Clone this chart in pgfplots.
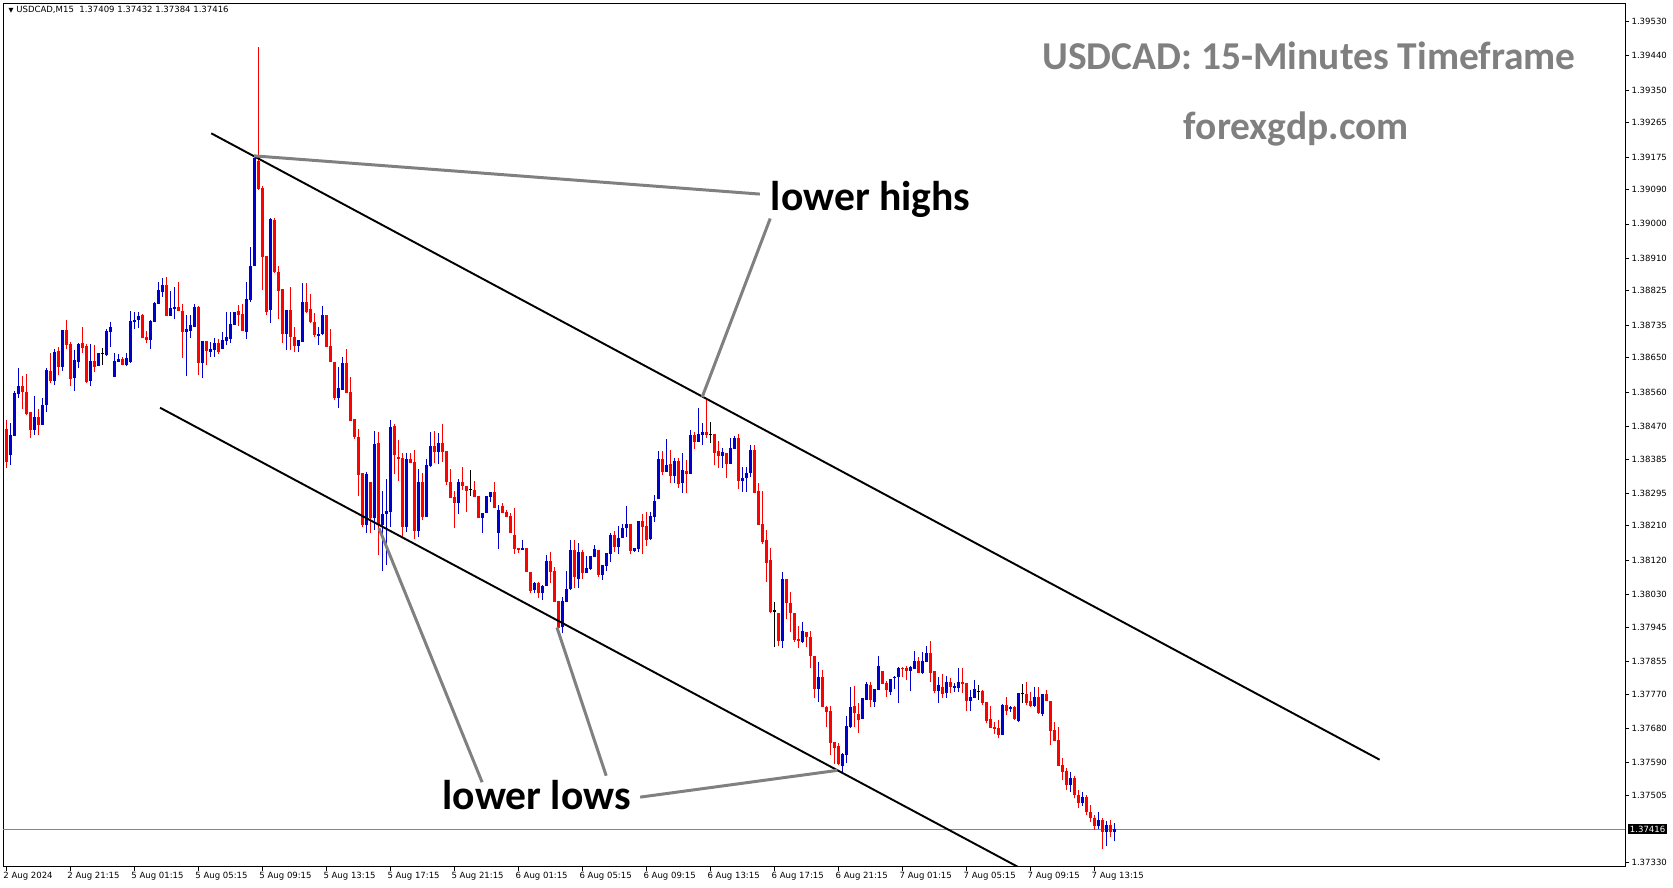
\documentclass[border=0pt]{standalone}
\usepackage{fontspec}
\usepackage{pgfplots}
\usepackage{pgfplotstable}
\pgfplotsset{compat=1.18}
\setmainfont{DejaVu Sans}
\newfontfamily\carlito{Carlito}
\definecolor{cblue}{RGB}{0,0,205}
\definecolor{cred}{RGB}{255,0,0}
\definecolor{annot}{RGB}{128,128,128}
\definecolor{pline}{RGB}{119,136,153}
\definecolor{ttl}{RGB}{128,128,128}

% USDCAD M15 candles: bar index, open, high, low, close
\pgfplotstableread{
x o h l c
0 1.38463 1.38487 1.38361 1.38377
1 1.38395 1.38479 1.38369 1.38447
2 1.38445 1.38563 1.38445 1.38557
3 1.38555 1.38623 1.38544 1.38576
4 1.38576 1.38602 1.38515 1.38560
5 1.38560 1.38607 1.38500 1.38502
6 1.38508 1.38508 1.38440 1.38461
7 1.38461 1.38550 1.38447 1.38495
8 1.38495 1.38515 1.38447 1.38474
9 1.38474 1.38544 1.38474 1.38526
10 1.38526 1.38623 1.38508 1.38618
11 1.38615 1.38662 1.38584 1.38589
12 1.38589 1.38673 1.38578 1.38665
13 1.38667 1.38678 1.38604 1.38625
14 1.38625 1.38722 1.38615 1.38722
15 1.38722 1.38748 1.38673 1.38683
16 1.38686 1.38691 1.38576 1.38594
17 1.38597 1.38670 1.38563 1.38644
18 1.38638 1.38688 1.38623 1.38686
19 1.38688 1.38730 1.38662 1.38675
20 1.38680 1.38686 1.38584 1.38586
21 1.38589 1.38686 1.38576 1.38641
22 1.38641 1.38683 1.38612 1.38625
23 1.38628 1.38662 1.38628 1.38662
24 1.38662 1.38675 1.38631 1.38662
25 1.38657 1.38725 1.38654 1.38720
26 1.38717 1.38743 1.38678 1.38730
27 1.38599 1.38662 1.38599 1.38641
28 1.38638 1.38659 1.38638 1.38646
29 1.38646 1.38652 1.38631 1.38631
30 1.38631 1.38662 1.38628 1.38649
31 1.38638 1.38772 1.38636 1.38746
32 1.38743 1.38769 1.38725 1.38748
33 1.38748 1.38769 1.38727 1.38759
34 1.38761 1.38764 1.38701 1.38701
35 1.38704 1.38720 1.38688 1.38696
36 1.38696 1.38748 1.38673 1.38746
37 1.38743 1.38796 1.38743 1.38793
38 1.38790 1.38848 1.38790 1.38827
39 1.38822 1.38858 1.38809 1.38840
40 1.38840 1.38861 1.38759 1.38759
41 1.38759 1.38824 1.38759 1.38780
42 1.38777 1.38835 1.38751 1.38782
43 1.38782 1.38848 1.38772 1.38772
44 1.38772 1.38790 1.38649 1.38717
45 1.38717 1.38761 1.38602 1.38725
46 1.38720 1.38761 1.38701 1.38735
47 1.38730 1.38790 1.38730 1.38782
48 1.38782 1.38785 1.38604 1.38636
49 1.38636 1.38693 1.38597 1.38693
50 1.38693 1.38693 1.38631 1.38667
51 1.38665 1.38691 1.38652 1.38673
52 1.38670 1.38701 1.38652 1.38688
53 1.38688 1.38699 1.38659 1.38665
54 1.38673 1.38717 1.38673 1.38696
55 1.38693 1.38769 1.38683 1.38704
56 1.38699 1.38769 1.38688 1.38738
57 1.38735 1.38769 1.38735 1.38769
58 1.38772 1.38788 1.38733 1.38761
59 1.38764 1.38790 1.38720 1.38720
60 1.38717 1.38848 1.38699 1.38803
61 1.38801 1.38939 1.38796 1.38890
62 1.38890 1.39172 1.38890 1.39172
63 1.39165 1.39463 1.39089 1.39091
64 1.39094 1.39099 1.38827 1.38913
65 1.38916 1.38916 1.38761 1.38769
66 1.38775 1.39015 1.38741 1.39013
67 1.39010 1.39015 1.38871 1.38874
68 1.38874 1.38890 1.38751 1.38824
69 1.38830 1.38830 1.38688 1.38712
70 1.38712 1.38775 1.38670 1.38775
71 1.38775 1.38835 1.38670 1.38704
72 1.38704 1.38730 1.38665 1.38680
73 1.38680 1.38696 1.38665 1.38696
74 1.38691 1.38845 1.38691 1.38796
75 1.38796 1.38845 1.38767 1.38769
76 1.38777 1.38816 1.38741 1.38743
77 1.38743 1.38767 1.38704 1.38709
78 1.38707 1.38730 1.38683 1.38712
79 1.38712 1.38785 1.38709 1.38761
80 1.38761 1.38761 1.38678 1.38678
81 1.38680 1.38725 1.38638 1.38638
82 1.38638 1.38638 1.38539 1.38544
83 1.38544 1.38625 1.38518 1.38570
84 1.38565 1.38652 1.38565 1.38636
85 1.38636 1.38673 1.38557 1.38557
86 1.38560 1.38599 1.38484 1.38484
87 1.38489 1.38489 1.38437 1.38442
88 1.38442 1.38463 1.38288 1.38343
89 1.38348 1.38348 1.38207 1.38212
90 1.38212 1.38351 1.38191 1.38345
91 1.38324 1.38324 1.38191 1.38230
92 1.38230 1.38458 1.38199 1.38424
93 1.38427 1.38455 1.38133 1.38212
94 1.38212 1.38301 1.38092 1.38241
95 1.38241 1.38332 1.38107 1.38249
96 1.38246 1.38487 1.38207 1.38468
97 1.38471 1.38476 1.38345 1.38395
98 1.38390 1.38434 1.38327 1.38385
99 1.38387 1.38400 1.38181 1.38207
100 1.38207 1.38400 1.38194 1.38385
101 1.38385 1.38400 1.38374 1.38374
102 1.38377 1.38408 1.38175 1.38196
103 1.38196 1.38358 1.38181 1.38324
104 1.38324 1.38348 1.38225 1.38233
105 1.38233 1.38385 1.38233 1.38369
106 1.38366 1.38455 1.38364 1.38419
107 1.38419 1.38458 1.38374 1.38403
108 1.38403 1.38453 1.38372 1.38427
109 1.38427 1.38476 1.38377 1.38403
110 1.38406 1.38406 1.38317 1.38324
111 1.38324 1.38358 1.38283 1.38283
112 1.38285 1.38301 1.38204 1.38269
113 1.38269 1.38332 1.38241 1.38324
114 1.38324 1.38364 1.38304 1.38314
115 1.38314 1.38314 1.38246 1.38301
116 1.38304 1.38356 1.38288 1.38304
117 1.38304 1.38327 1.38285 1.38285
118 1.38288 1.38288 1.38230 1.38230
119 1.38230 1.38243 1.38191 1.38243
120 1.38243 1.38288 1.38243 1.38288
121 1.38285 1.38298 1.38272 1.38298
122 1.38298 1.38324 1.38256 1.38256
123 1.38191 1.38264 1.38149 1.38251
124 1.38262 1.38269 1.38243 1.38243
125 1.38246 1.38251 1.38233 1.38233
126 1.38235 1.38243 1.38191 1.38191
127 1.38186 1.38256 1.38136 1.38149
128 1.38152 1.38152 1.38139 1.38146
129 1.38146 1.38173 1.38146 1.38152
130 1.38152 1.38152 1.38089 1.38089
131 1.38089 1.38089 1.38034 1.38039
132 1.38042 1.38063 1.38034 1.38060
133 1.38060 1.38063 1.38021 1.38034
134 1.38034 1.38055 1.38016 1.38052
135 1.38052 1.38133 1.38052 1.38118
136 1.38118 1.38141 1.38060 1.38089
137 1.38092 1.38102 1.38010 1.38010
138 1.38013 1.38013 1.37924 1.37942
139 1.37945 1.38023 1.37929 1.38013
140 1.38010 1.38092 1.38010 1.38044
141 1.38044 1.38173 1.38042 1.38146
142 1.38146 1.38173 1.38047 1.38076
143 1.38071 1.38165 1.38047 1.38141
144 1.38141 1.38146 1.38071 1.38086
145 1.38086 1.38131 1.38086 1.38099
146 1.38097 1.38131 1.38094 1.38131
147 1.38128 1.38160 1.38128 1.38149
148 1.38146 1.38146 1.38076 1.38081
149 1.38081 1.38107 1.38068 1.38107
150 1.38105 1.38139 1.38092 1.38139
151 1.38136 1.38191 1.38115 1.38186
152 1.38186 1.38196 1.38141 1.38154
153 1.38154 1.38209 1.38136 1.38178
154 1.38178 1.38215 1.38178 1.38204
155 1.38204 1.38262 1.38181 1.38215
156 1.38215 1.38215 1.38136 1.38144
157 1.38144 1.38152 1.38141 1.38152
158 1.38149 1.38222 1.38141 1.38222
159 1.38222 1.38241 1.38136 1.38207
160 1.38209 1.38246 1.38157 1.38173
161 1.38175 1.38246 1.38173 1.38235
162 1.38233 1.38290 1.38220 1.38275
163 1.38280 1.38406 1.38280 1.38385
164 1.38385 1.38406 1.38343 1.38351
165 1.38351 1.38437 1.38351 1.38369
166 1.38372 1.38408 1.38322 1.38340
167 1.38340 1.38387 1.38322 1.38379
168 1.38379 1.38387 1.38309 1.38319
169 1.38322 1.38400 1.38296 1.38356
170 1.38353 1.38382 1.38296 1.38345
171 1.38345 1.38461 1.38345 1.38447
172 1.38447 1.38455 1.38411 1.38429
173 1.38429 1.38518 1.38429 1.38450
174 1.38447 1.38479 1.38421 1.38455
175 1.38455 1.38539 1.38440 1.38447
176 1.38450 1.38481 1.38427 1.38450
177 1.38450 1.38450 1.38369 1.38400
178 1.38406 1.38432 1.38361 1.38392
179 1.38392 1.38413 1.38361 1.38403
180 1.38400 1.38400 1.38335 1.38372
181 1.38372 1.38440 1.38372 1.38413
182 1.38411 1.38445 1.38411 1.38440
183 1.38440 1.38450 1.38306 1.38327
184 1.38327 1.38364 1.38298 1.38335
185 1.38335 1.38364 1.38298 1.38348
186 1.38348 1.38421 1.38338 1.38408
187 1.38408 1.38421 1.38296 1.38296
188 1.38301 1.38322 1.38212 1.38212
189 1.38215 1.38301 1.38162 1.38167
190 1.38173 1.38199 1.38063 1.38112
191 1.38120 1.38152 1.37982 1.37984
192 1.37987 1.38010 1.37893 1.37987
193 1.37982 1.37982 1.37895 1.37908
194 1.37908 1.38089 1.37890 1.38071
195 1.38071 1.38071 1.37966 1.38008
196 1.38008 1.38037 1.37932 1.37982
197 1.37982 1.37982 1.37906 1.37911
198 1.37914 1.37948 1.37890 1.37908
199 1.37906 1.37958 1.37903 1.37934
200 1.37932 1.37932 1.37893 1.37919
201 1.37919 1.37934 1.37838 1.37869
202 1.37869 1.37869 1.37759 1.37783
203 1.37783 1.37853 1.37749 1.37814
204 1.37814 1.37833 1.37736 1.37736
205 1.37736 1.37738 1.37683 1.37723
206 1.37725 1.37738 1.37610 1.37641
207 1.37644 1.37644 1.37586 1.37628
208 1.37634 1.37641 1.37584 1.37586
209 1.37581 1.37615 1.37566 1.37613
210 1.37610 1.37712 1.37589 1.37686
211 1.37683 1.37788 1.37681 1.37736
212 1.37738 1.37791 1.37683 1.37720
213 1.37717 1.37746 1.37668 1.37702
214 1.37704 1.37759 1.37704 1.37759
215 1.37754 1.37801 1.37754 1.37796
216 1.37793 1.37801 1.37736 1.37754
217 1.37749 1.37783 1.37736 1.37783
218 1.37780 1.37869 1.37780 1.37843
219 1.37830 1.37830 1.37796 1.37796
220 1.37798 1.37804 1.37762 1.37780
221 1.37775 1.37809 1.37767 1.37809
222 1.37812 1.37817 1.37783 1.37814
223 1.37814 1.37840 1.37746 1.37838
224 1.37838 1.37840 1.37814 1.37835
225 1.37838 1.37843 1.37806 1.37830
226 1.37830 1.37843 1.37777 1.37840
227 1.37835 1.37882 1.37835 1.37856
228 1.37856 1.37866 1.37825 1.37825
229 1.37825 1.37880 1.37822 1.37856
230 1.37853 1.37895 1.37853 1.37877
231 1.37877 1.37908 1.37801 1.37825
232 1.37830 1.37830 1.37772 1.37777
233 1.37777 1.37814 1.37746 1.37793
234 1.37788 1.37822 1.37759 1.37770
235 1.37772 1.37817 1.37759 1.37801
236 1.37801 1.37812 1.37772 1.37788
237 1.37786 1.37798 1.37775 1.37790
238 1.37785 1.37838 1.37775 1.37801
239 1.37801 1.37838 1.37772 1.37796
240 1.37798 1.37798 1.37725 1.37751
241 1.37751 1.37780 1.37725 1.37762
242 1.37759 1.37806 1.37759 1.37783
243 1.37777 1.37793 1.37754 1.37777
244 1.37777 1.37780 1.37741 1.37746
245 1.37749 1.37749 1.37694 1.37699
246 1.37704 1.37738 1.37681 1.37681
247 1.37684 1.37696 1.37665 1.37679
248 1.37681 1.37702 1.37654 1.37662
249 1.37662 1.37743 1.37662 1.37741
250 1.37741 1.37762 1.37715 1.37725
251 1.37730 1.37738 1.37723 1.37736
252 1.37736 1.37738 1.37702 1.37704
253 1.37699 1.37772 1.37696 1.37772
254 1.37770 1.37796 1.37746 1.37770
255 1.37770 1.37801 1.37741 1.37746
256 1.37751 1.37775 1.37736 1.37738
257 1.37738 1.37788 1.37736 1.37762
258 1.37762 1.37788 1.37717 1.37720
259 1.37717 1.37770 1.37712 1.37770
260 1.37770 1.37780 1.37751 1.37751
261 1.37751 1.37751 1.37636 1.37673
262 1.37675 1.37696 1.37647 1.37647
263 1.37649 1.37683 1.37581 1.37581
264 1.37584 1.37602 1.37545 1.37566
265 1.37568 1.37576 1.37518 1.37531
266 1.37531 1.37566 1.37513 1.37550
267 1.37550 1.37555 1.37497 1.37505
268 1.37505 1.37518 1.37471 1.37484
269 1.37484 1.37513 1.37477 1.37500
270 1.37500 1.37505 1.37453 1.37461
271 1.37461 1.37479 1.37435 1.37445
272 1.37445 1.37453 1.37414 1.37424
273 1.37424 1.37461 1.37416 1.37440
274 1.37440 1.37445 1.37365 1.37408
275 1.37408 1.37438 1.37372 1.37428
276 1.37428 1.37440 1.37395 1.37409
277 1.37409 1.37432 1.37384 1.37416
}\candles

\begin{document}
\begin{tikzpicture}
\path[use as bounding box] (-3bp,-20bp) rectangle (1565bp,812bp);
\begin{axis}[
    at={(0,0)}, anchor=south west,
    width=1520bp, height=809bp, scale only axis,
    xmin=-0.8, xmax=404.53,
    ymin=1.373188, ymax=1.395775,
    clip mode=individual,
    axis line style={line width=0.8bp},
    xtick pos=bottom, ytick pos=right,
    tick align=outside,
    major tick length=4bp,
    tick style={line width=0.6bp, black},
    ticklabel style={font=\fontsize{8bp}{9bp}\selectfont},
    ytick={1.39530,1.39440,1.39350,1.39265,1.39175,1.39090,1.39000,1.38910,1.38825,1.38735,1.38650,1.38560,1.38470,1.38385,1.38295,1.38210,1.38120,1.38030,1.37945,1.37855,1.37770,1.37680,1.37590,1.37505,1.37330},
    yticklabels={1.39530,1.39440,1.39350,1.39265,1.39175,1.39090,1.39000,1.38910,1.38825,1.38735,1.38650,1.38560,1.38470,1.38385,1.38295,1.38210,1.38120,1.38030,1.37945,1.37855,1.37770,1.37680,1.37590,1.37505,1.37330},
    yticklabel style={anchor=west, inner sep=1bp, xshift=1bp},
    xtick={0,16,32,48,64,80,96,112,128,144,160,176,192,208,224,240,256,272},
    xticklabels={2 Aug 2024,2 Aug 21:15,5 Aug 01:15,5 Aug 05:15,5 Aug 09:15,5 Aug 13:15,5 Aug 17:15,5 Aug 21:15,6 Aug 01:15,6 Aug 05:15,6 Aug 09:15,6 Aug 13:15,6 Aug 17:15,6 Aug 21:15,7 Aug 01:15,7 Aug 05:15,7 Aug 09:15,7 Aug 13:15},
    xticklabel style={anchor=north west, inner sep=1bp, xshift=-4bp},
]
% current price line
\addplot[pline, line width=0.7bp, forget plot] coordinates {(-0.8,1.37416) (404.53,1.37416)};

% wicks
\addplot[draw=none, mark=none, forget plot,
  restrict expr to domain={\thisrow{c}-\thisrow{o}}{0.000001:1},
  error bars/.cd, y dir=plus, y explicit, error mark=none,
  error bar style={line width=0.9bp, cblue}]
  table[x=x, y=l, y error plus expr={\thisrow{h}-\thisrow{l}}] {\candles};
\addplot[draw=none, mark=none, forget plot,
  restrict expr to domain={\thisrow{c}-\thisrow{o}}{-1:-0.000001},
  error bars/.cd, y dir=plus, y explicit, error mark=none,
  error bar style={line width=0.9bp, cred}]
  table[x=x, y=l, y error plus expr={\thisrow{h}-\thisrow{l}}] {\candles};
\addplot[draw=none, mark=none, forget plot,
  restrict expr to domain={\thisrow{c}-\thisrow{o}}{-0.000001:0.000001},
  error bars/.cd, y dir=plus, y explicit, error mark=none,
  error bar style={line width=0.9bp, black}]
  table[x=x, y=l, y error plus expr={\thisrow{h}-\thisrow{l}}] {\candles};

% bodies
\addplot[draw=none, mark=none, forget plot,
  restrict expr to domain={\thisrow{c}-\thisrow{o}}{0.000001:1},
  error bars/.cd, y dir=plus, y explicit, error mark=none,
  error bar style={line width=2.4bp, cblue}]
  table[x=x, y=o, y error plus expr={\thisrow{c}-\thisrow{o}}] {\candles};
\addplot[draw=none, mark=none, forget plot,
  restrict expr to domain={\thisrow{c}-\thisrow{o}}{-1:-0.000001},
  error bars/.cd, y dir=plus, y explicit, error mark=none,
  error bar style={line width=2.4bp, cred}]
  table[x=x, y=c, y error plus expr={\thisrow{o}-\thisrow{c}}] {\candles};
\addplot[draw=none, mark=none, forget plot,
  restrict expr to domain={\thisrow{c}-\thisrow{o}}{-0.000001:0.000001},
  error bars/.cd, y dir=plus, y explicit, error mark=none,
  error bar style={line width=2.4bp, black}]
  table[x=x, y expr={\thisrow{o}-0.000014}, y error plus expr={0.000028}] {\candles};

% channel lines
\addplot[black, line width=1.8bp, forget plot] coordinates {(51.2,1.39237) (343.2,1.37598)};
\addplot[black, line width=1.8bp, forget plot] coordinates {(38.4,1.38519) (262,1.37266)};

% pointer lines
\addplot[annot, line width=2.8bp, forget plot] coordinates {(61.9,1.39178) (188.3,1.39078)};
\addplot[annot, line width=2.8bp, forget plot] coordinates {(173.9,1.38547) (190.9,1.39014)};
\addplot[annot, line width=2.8bp, forget plot] coordinates {(93.1,1.38204) (118.9,1.37539)};
\addplot[annot, line width=2.8bp, forget plot] coordinates {(137.6,1.37944) (149.9,1.37556)};
\addplot[annot, line width=2.8bp, forget plot] coordinates {(158.4,1.37500) (207.7,1.37570)};

% labels
\node[font=\carlito\bfseries\fontsize{39bp}{39bp}\selectfont] at (axis cs:216,1.39064) {lower highs};
\node[font=\carlito\bfseries\fontsize{39bp}{39bp}\selectfont] at (axis cs:132.5,1.37506) {lower lows};
\node[font=\carlito\bfseries\fontsize{37bp}{37bp}\selectfont, text=ttl] at (axis cs:325.6,1.39441) {USDCAD: 15-Minutes Timeframe};
\node[font=\carlito\bfseries\fontsize{37bp}{37bp}\selectfont, text=ttl] at (axis cs:322.4,1.39248) {forexgdp.com};

% header and price tag
\node[anchor=north west, inner sep=0pt, font=\fontsize{8bp}{9bp}\selectfont] at ([xshift=5bp,yshift=-3bp]rel axis cs:0,1) {{\fontsize{6bp}{7bp}\selectfont▼}\ USDCAD,M15\ \ 1.37409 1.37432 1.37384 1.37416};
\node[anchor=west, fill=black, text=white, inner xsep=1.5bp, inner ysep=1.5bp, font=\fontsize{8bp}{9bp}\selectfont] at ([xshift=3bp]axis cs:404.53,1.37416) {1.37416};
\end{axis}
\end{tikzpicture}
\end{document}
